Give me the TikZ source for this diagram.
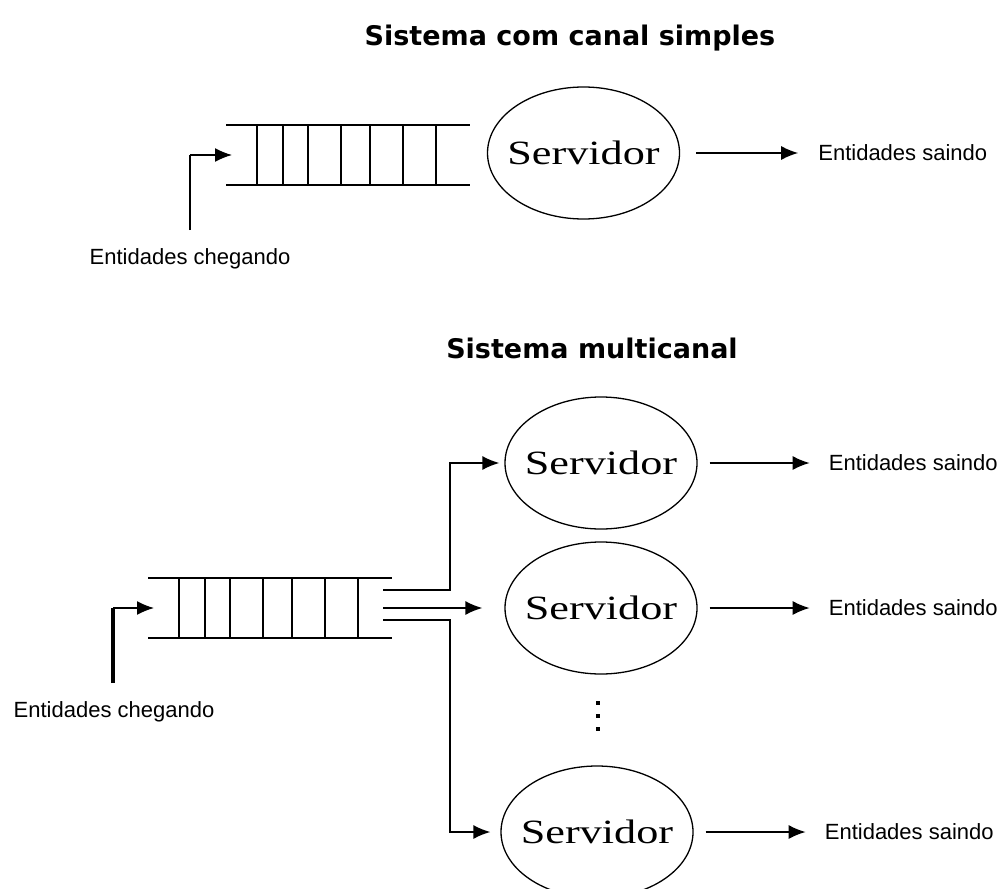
\documentclass[tikz,border=0pt]{standalone}
\usepackage{fontspec}
\usepackage{graphicx}
\setmainfont{Liberation Sans}
\newfontfamily\titlefont{DejaVu Sans}
\newfontfamily\servfont{Liberation Serif}
\usetikzlibrary{shapes.geometric, arrows.meta, positioning}

\newcommand\srvtxt{\scalebox{1.3}[1]{Servidor}}

\begin{document}
\begin{tikzpicture}[x=1pt, y=-1pt,
    servidor/.style={ellipse, draw, line width=1.3pt, minimum width=192pt,
        minimum height=132pt, inner ysep=0pt, inner xsep=-30pt,
        font=\servfont\fontsize{34}{34}\selectfont},
    rotulo/.style={inner sep=0pt, font=\fontsize{22}{26}\selectfont},
    titulo/.style={font=\titlefont\bfseries\fontsize{27}{30}\selectfont},
    seta/.style={line width=1.5pt, -{Latex[length=17pt,width=14pt]}},
    fila/.style={line width=1.5pt}]
\path[fill=white, use as bounding box] (0,0) rectangle (1008,888);

\node[titulo] (titA) at (570,38) {Sistema com canal simples};
\node[titulo] (titB) at (592,348) {Sistema multicanal};

% filas
\foreach \qx/\qy/\nm in {226/155/A, 148/608/B}{
    \draw[fila] (\qx,\qy-30) -- ++(244,0);
    \draw[fila] (\qx,\qy+30) -- ++(244,0);
    \foreach \dx/\lw in {31/1.5, 57/1.5, 82/1.5, 115/2.5, 144/2.5, 177/1.5, 210/2.5}
        \draw[line width=\lw pt] (\qx+\dx,\qy-30) -- (\qx+\dx,\qy+30);
    \coordinate (fila\nm) at (\qx+6,\qy);
}

% canal simples
\node[servidor] (srvA) at (583.5,153) {\srvtxt};
\node[rotulo, right=138pt of srvA.east] (saiA) {Entidades saindo};
\draw[seta, shorten <=16pt, shorten >=20pt] (srvA.east) -- (saiA.west);

\node[rotulo] (chegA) at (190,259) {Entidades chegando};
\coordinate (entA) at (190,230);
\draw[line width=2pt] (entA) -- (entA |- filaA);
\draw[seta] (entA |- filaA) -- (filaA);

% multicanal
\node[servidor] (srvB1) at (601,463) {\srvtxt};
\node[servidor] (srvB2) at (601,608) {\srvtxt};
\node[servidor] (srvB3) at (597,832) {\srvtxt};
\foreach \s in {B1,B2,B3}{
    \node[rotulo, right=131pt of srv\s.east] (sai\s) {Entidades saindo};
    \draw[seta, shorten <=12pt, shorten >=19pt] (srv\s.east) -- (sai\s.west);
}
\foreach \d in {703,716,729}
    \fill (596,\d-2) rectangle ++(4,4);

\node[rotulo] (chegB) at (114,712) {Entidades chegando};
\coordinate (entB) at (113,683);
\draw[line width=3.5pt] (entB) -- (entB |- filaB);
\draw[seta] (entB |- filaB) -- (filaB);

\coordinate (saidaB1) at (383,590);
\coordinate (saidaB2) at (383,608);
\coordinate (saidaB3) at (383,620);
\coordinate (ramo) at (450,608);
\draw[seta, shorten >=5pt] (saidaB1) -- (saidaB1 -| ramo) |- (srvB1.west);
\draw[seta, shorten >=22pt] (saidaB2) -- (srvB2.west);
\draw[seta, shorten >=10pt] (saidaB3) -- (saidaB3 -| ramo) |- (srvB3.west);
\end{tikzpicture}
\end{document}
